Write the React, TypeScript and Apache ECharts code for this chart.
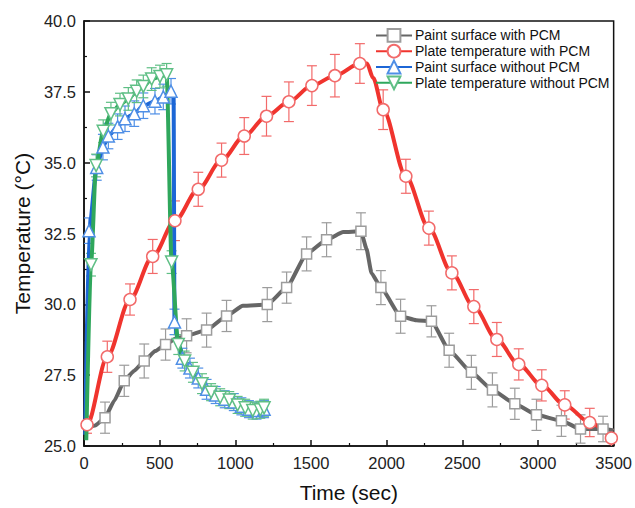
import React, { useEffect, useRef } from "react";
import * as echarts from "echarts";

// [time (s), temperature (°C), error (°C) or null when the point has no marker]
type Pt = [number, number, number | null];

const paintWithPCM: Pt[] = [
  [0, 25.6, null], [73, 25.72, null], [139, 26.0, 0.55], [200, 26.6, null], [266, 27.3, 0.55],
  [330, 27.65, null], [398, 28.0, 0.6], [470, 28.35, null], [539, 28.58, 0.55], [610, 28.8, null],
  [678, 28.89, 0.6], [810, 29.09, 0.6], [942, 29.59, 0.55], [1050, 29.95, null], [1211, 29.99, 0.6],
  [1339, 30.59, 0.55], [1471, 31.78, 0.6], [1603, 32.28, 0.6], [1713, 32.55, null], [1830, 32.58, 0.65],
  [1867, 31.96, null], [1900, 31.1, null], [1962, 30.59, 0.6], [2092, 29.58, 0.6], [2197, 29.44, null],
  [2296, 29.4, 0.55], [2413, 28.38, 0.6], [2560, 27.6, 0.6], [2699, 26.98, 0.6], [2847, 26.49, 0.55],
  [2990, 26.1, 0.55], [3155, 25.89, 0.55], [3281, 25.6, 0.5], [3430, 25.6, 0.45], [3500, 25.55, null],
];

const plateWithPCM: Pt[] = [
  [0, 25.7, null], [20, 25.75, 0.3], [154, 28.15, 0.55], [304, 30.17, 0.55], [454, 31.69, 0.6],
  [601, 32.95, 0.7], [755, 34.06, 0.6], [909, 35.09, 0.6], [1059, 35.94, 0.65], [1206, 36.64, 0.7],
  [1354, 37.15, 0.7], [1506, 37.72, 0.7], [1658, 38.07, 0.75], [1823, 38.5, 0.7], [1870, 38.5, null],
  [1910, 38.0, null], [1977, 36.87, 0.7], [2127, 34.52, 0.6], [2279, 32.69, 0.6], [2431, 31.11, 0.6],
  [2576, 29.92, 0.6], [2728, 28.76, 0.6], [2873, 27.88, 0.55], [3025, 27.14, 0.55], [3177, 26.45, 0.5],
  [3342, 25.83, 0.5], [3485, 25.28, 0.3],
];

const paintWithoutPCM: Pt[] = [
  [8, 25.4, null], [33, 32.6, 0.45], [84, 34.83, 0.45], [125, 35.55, 0.45], [161, 35.94, 0.45],
  [222, 36.27, 0.45], [271, 36.55, 0.45], [332, 36.73, 0.45], [392, 37.01, 0.45], [469, 37.17, 0.45],
  [524, 37.32, 0.45], [575, 37.52, 0.45], [592, 37.45, null], [598, 29.38, 0.45], [625, 28.6, null],
  [650, 28.1, 0.35], [700, 27.75, 0.35], [755, 27.4, 0.35], [810, 27.0, 0.35], [870, 26.8, 0.3],
  [930, 26.65, 0.3], [990, 26.55, 0.3], [1040, 26.4, 0.3], [1090, 26.3, 0.3], [1140, 26.25, 0.3],
  [1190, 26.3, 0.3],
];

const plateWithoutPCM: Pt[] = [
  [15, 25.2, null], [46, 31.4, 0.4], [80, 34.9, 0.4], [127, 36.11, 0.4], [178, 36.73, 0.4],
  [238, 37.05, 0.4], [293, 37.25, 0.4], [348, 37.52, 0.4], [392, 37.69, 0.4], [447, 37.95, 0.4],
  [502, 38.04, 0.4], [546, 38.1, 0.4], [579, 31.49, 0.4], [623, 28.58, 0.35], [665, 28.0, 0.35],
  [720, 27.6, 0.35], [780, 27.2, 0.35], [840, 26.9, 0.3], [900, 26.72, 0.3], [960, 26.62, 0.3],
  [1015, 26.45, 0.3], [1065, 26.35, 0.3], [1115, 26.25, 0.3], [1165, 26.28, 0.3], [1190, 26.35, 0.3],
];

const seriesNames = [
  "Paint surface with PCM",
  "Plate temperature with PCM",
  "Paint surface without PCM",
  "Plate temperature without PCM",
];
const seriesData = [paintWithPCM, plateWithPCM, paintWithoutPCM, plateWithoutPCM];
const lineColors = ["#666666", "#f0342e", "#1c66d6", "#2fa75c"];
const markColors = ["#9c9c9c", "#f26a6a", "#4f8fe6", "#5fbf85"];
const symbols = ["rect", "circle", "triangle", "path://M0 0L2 0L1 1.732Z"];
const symbolSizes = [10, 12, 12, 12];
const smooths = [0.15, 0.3, 0.25, 0.25];

const xAxisName = "Time (sec)";
const yAxisName = "Temperature (°C)";

const FONT = "'Liberation Sans', Arial, sans-serif";

export default function App() {
  const ref = useRef<HTMLDivElement>(null);

  useEffect(() => {
    if (!ref.current) return;
    const chart = echarts.init(ref.current, null, { renderer: "svg" });

    const series: any[] = [];
    seriesData.forEach((pts, i) => {
      const errColor = markColors[i];
      series.push({
        name: seriesNames[i] + " error",
        type: "custom",
        silent: true,
        clip: true,
        z: 1,
        encode: { x: 0, y: [1, 2] },
        data: pts.filter((p) => p[2] !== null).map((p) => [p[0], p[1] - (p[2] as number), p[1] + (p[2] as number)]),
        renderItem: (params: any, api: any) => {
          const x = api.value(0);
          const top = api.coord([x, api.value(2)]);
          const bot = api.coord([x, api.value(1)]);
          const w = 5;
          const style = { stroke: errColor, lineWidth: 1.2 };
          return {
            type: "group",
            children: [
              { type: "line", shape: { x1: top[0], y1: top[1], x2: bot[0], y2: bot[1] }, style },
              { type: "line", shape: { x1: top[0] - w, y1: top[1], x2: top[0] + w, y2: top[1] }, style },
              { type: "line", shape: { x1: bot[0] - w, y1: bot[1], x2: bot[0] + w, y2: bot[1] }, style },
            ],
          };
        },
      });
    });
    seriesData.forEach((pts, i) => {
      series.push({
        name: seriesNames[i],
        type: "line",
        smooth: smooths[i],
        smoothMonotone: "x",
        symbol: symbols[i],
        symbolSize: symbolSizes[i],
        showSymbol: true,
        clip: true,
        z: 3,
        lineStyle: { color: lineColors[i], width: 4 },
        itemStyle: { color: "#ffffff", borderColor: markColors[i], borderWidth: 1.5 },
        emphasis: { disabled: true },
        data: pts.map((p) =>
          p[2] === null ? { value: [p[0], p[1]], symbol: "none" } : { value: [p[0], p[1]] }
        ),
      });
    });

    chart.setOption({
      animation: false,
      textStyle: { fontFamily: FONT },
      grid: {
        left: 84,
        right: 21,
        top: 21,
        bottom: 60,
        show: true,
        borderColor: "#111",
        borderWidth: 1.5,
        backgroundColor: "transparent",
      },
      legend: {
        orient: "vertical",
        left: 375,
        top: 28,
        padding: 0,
        itemGap: 1,
        itemWidth: 36,
        itemHeight: 16,
        data: seriesNames,
        textStyle: { fontFamily: FONT, fontSize: 14, color: "#111", padding: [0, 0, 0, -2] },
      },
      xAxis: {
        type: "value",
        min: 0,
        max: 3500,
        interval: 500,
        name: xAxisName,
        nameLocation: "middle",
        nameGap: 36,
        nameTextStyle: { fontFamily: FONT, fontSize: 21, color: "#111" },
        axisLine: { show: true, lineStyle: { color: "#111", width: 1.5 } },
        axisTick: { show: true, inside: true, length: 6, lineStyle: { color: "#111", width: 1.5 } },
        minorTick: { show: true, splitNumber: 2, length: 3, lineStyle: { color: "#111", width: 1.2 } },
        axisLabel: {
          fontFamily: FONT,
          fontSize: 16.5,
          color: "#222",
          margin: 8,
          formatter: (v: number) => String(v),
        },
        splitLine: { show: false },
      },
      yAxis: {
        type: "value",
        min: 25,
        max: 40,
        interval: 2.5,
        name: yAxisName,
        nameLocation: "middle",
        nameGap: 50,
        nameTextStyle: { fontFamily: FONT, fontSize: 21, color: "#111" },
        axisLine: { show: true, lineStyle: { color: "#111", width: 1.5 } },
        axisTick: { show: true, inside: true, length: 6, lineStyle: { color: "#111", width: 1.5 } },
        minorTick: { show: true, splitNumber: 2, length: 3, lineStyle: { color: "#111", width: 1.2 } },
        axisLabel: {
          fontFamily: FONT,
          fontSize: 16.5,
          color: "#222",
          margin: 8,
          formatter: (v: number) => v.toFixed(1),
        },
        splitLine: { show: false },
      },
      series,
    });

    return () => chart.dispose();
  }, []);

  return (
    <div
      ref={ref}
      style={{ position: "fixed", left: 0, top: 0, width: 635, height: 508, background: "#fff" }}
    />
  );
}
